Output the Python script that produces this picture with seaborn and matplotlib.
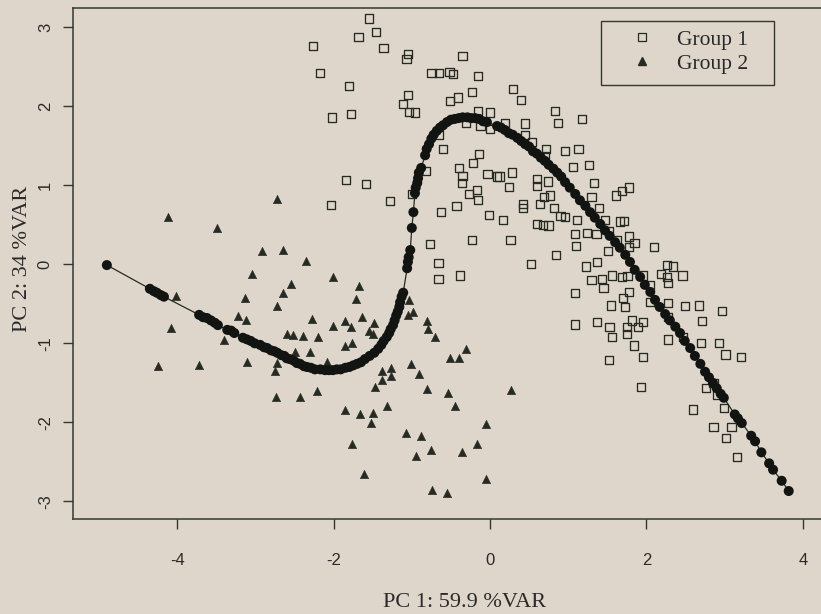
import matplotlib
matplotlib.use("Agg")
import matplotlib.pyplot as plt
from matplotlib.lines import Line2D
from matplotlib.patches import Rectangle
import pandas as pd
import seaborn as sns

# Group 1 scores (open squares)
g1_pc1 = [-1.55, -1.68, -1.46, -2.26, -1.36, -1.05, -1.07, -0.35, -2.17, -0.75,
          -0.65, -0.52, -0.47, -0.15, -1.80, -1.05, -0.23, -0.41, -0.51, -1.11,
          -1.04, -0.96, -2.02, -1.78, -0.15, 0.00, -0.31, -0.12, 0.00, -0.65,
          -0.60, -0.14, -0.22, -0.40, -0.03, 0.09, -0.82, -0.35, -0.36, -1.84,
          -1.59, -0.17, -0.27, -0.15, -1.00, -2.03, -1.28, -0.43, -0.63, -0.01,
          -0.23, -0.77, -0.66, -0.66, -0.38, 0.26, 0.17, 0.42, 0.42, 0.64,
          0.60, 0.68, 0.75, 0.82, 0.52, 0.84, 0.60, 0.60, 0.74, 0.69,
          0.77, 0.24, 0.28, 0.12, 0.19, 0.45, 0.45, 0.54, 0.72, 0.70,
          0.29, 0.40, 0.83, 0.87, 1.18, 0.96, 1.13, 1.06, 1.27, 1.33,
          1.30, 1.39, 1.61, 1.69, 1.78, 0.90, 0.96, 1.11, 1.47, 1.66,
          1.71, 1.78, 1.85, 1.09, 1.10, 1.24, 1.36, 1.51, 1.23, 1.37,
          1.52, 1.62, 1.78, 2.10, 1.30, 1.43, 1.56, 1.69, 1.76, 1.45,
          1.96, 2.19, 2.26, 2.34, 2.26, 2.46, 2.28, 1.78, 1.70, 2.05,
          1.09, 1.55, 1.73, 2.05, 2.28, 2.49, 2.67, 2.97, 1.09, 1.37,
          1.53, 1.75, 1.82, 1.96, 1.89, 1.56, 1.75, 1.84, 2.28, 2.47,
          2.71, 2.70, 2.93, 2.28, 3.01, 3.21, 1.96, 1.52, 1.93, 2.76,
          2.86, 2.90, 2.60, 2.99, 2.86, 3.09, 3.02, 3.16]
g1_pc2 = [3.11, 2.88, 2.94, 2.76, 2.74, 2.66, 2.60, 2.64, 2.42, 2.42,
          2.42, 2.43, 2.41, 2.38, 2.26, 2.14, 2.18, 2.11, 2.07, 2.03,
          1.93, 1.92, 1.86, 1.90, 1.94, 1.92, 1.79, 1.75, 1.71, 1.64,
          1.46, 1.40, 1.28, 1.22, 1.14, 1.11, 1.18, 1.12, 1.03, 1.07,
          1.02, 0.94, 0.89, 0.81, 0.89, 0.75, 0.80, 0.74, 0.66, 0.62,
          0.31, 0.26, 0.02, -0.19, -0.14, 0.31, 0.56, 0.76, 0.71, 0.76,
          0.51, 0.50, 0.49, 0.71, 0.00, 0.12, 1.08, 0.99, 1.05, 0.85,
          0.87, 0.98, 1.16, 1.11, 1.79, 1.78, 1.64, 1.55, 1.46, 1.37,
          2.22, 2.08, 1.94, 1.79, 1.84, 1.43, 1.46, 1.23, 1.26, 1.03,
          0.85, 0.71, 0.87, 0.93, 0.97, 0.61, 0.60, 0.56, 0.56, 0.54,
          0.55, 0.35, 0.27, 0.38, 0.23, 0.40, 0.38, 0.17, -0.03, 0.03,
          0.42, 0.31, 0.22, 0.22, -0.20, -0.19, -0.14, -0.16, -0.15, -0.30,
          -0.14, -0.12, -0.01, -0.03, -0.16, -0.14, -0.24, -0.35, -0.43, -0.26,
          -0.36, -0.52, -0.54, -0.48, -0.49, -0.53, -0.52, -0.59, -0.76, -0.73,
          -0.79, -0.79, -0.71, -0.73, -0.79, -0.92, -0.88, -1.03, -0.95, -0.92,
          -0.72, -1.00, -1.00, -0.67, -1.14, -1.17, -1.17, -1.21, -1.55, -1.57,
          -1.50, -1.65, -1.84, -1.82, -2.06, -2.06, -2.20, -2.44]

# Group 2 scores (filled triangles)
g2_pc1 = [-4.12, -3.49, -2.72, -2.92, -2.65, -2.35, -3.04, -2.54, -2.01, -2.65,
          -3.13, -2.72, -4.02, -3.22, -3.12, -2.28, -2.01, -4.08, -2.60, -2.52,
          -2.39, -2.20, -3.40, -2.49, -2.30, -4.25, -3.72, -3.11, -2.72, -2.75,
          -2.08, -2.74, -2.43, -2.21, -1.68, -1.71, -1.64, -1.85, -1.78, -1.48,
          -1.55, -1.50, -1.85, -1.76, -1.04, -0.98, -1.05, -0.81, -0.79, -0.70,
          -0.31, -0.51, -0.40, -1.38, -1.27, -1.27, -1.38, -1.47, -1.01, -0.91,
          -0.81, -0.54, -0.45, 0.27, -1.85, -1.66, -1.50, -1.52, -1.32, -0.05,
          -1.76, -1.07, -0.88, -0.75, -0.95, -0.36, -0.17, -1.61, -0.05, -0.74,
          -0.55]
g2_pc2 = [0.60, 0.46, 0.83, 0.17, 0.18, 0.04, -0.12, -0.25, -0.16, -0.36,
          -0.43, -0.53, -0.40, -0.65, -0.71, -0.69, -0.78, -0.81, -0.88, -0.89,
          -0.91, -0.92, -0.96, -1.11, -1.11, -1.29, -1.27, -1.24, -1.25, -1.35,
          -1.24, -1.68, -1.68, -1.60, -0.27, -0.44, -0.67, -0.72, -0.79, -0.74,
          -0.84, -0.88, -1.03, -1.00, -0.45, -0.60, -0.64, -0.72, -0.82, -0.92,
          -1.07, -1.19, -1.19, -1.35, -1.31, -1.41, -1.46, -1.55, -1.26, -1.39,
          -1.58, -1.63, -1.79, -1.59, -1.84, -1.89, -1.88, -2.01, -1.79, -2.02,
          -2.27, -2.14, -2.17, -2.35, -2.43, -2.38, -2.27, -2.65, -2.72, -2.86,
          -2.89]

# Principal curve fitted through both groups
curve_pc1 = [-4.90,
             -4.35, -4.30, -4.26, -4.21, -4.17,
             -3.72, -3.67, -3.62, -3.57, -3.52, -3.48,
             -3.36, -3.31, -3.27,
             -3.16, -3.11, -3.06, -3.01, -2.94, -2.89, -2.85, -2.80, -2.76, -2.72,
             -2.67, -2.63, -2.60, -2.56, -2.51, -2.47, -2.43, -2.38, -2.34, -2.29,
             -2.24, -2.17, -2.11, -2.06, -2.01, -1.96, -1.91, -1.85, -1.80, -1.75,
             -1.70, -1.65, -1.60, -1.54, -1.48, -1.43, -1.39, -1.36, -1.32, -1.29,
             -1.27, -1.24, -1.22, -1.20, -1.18, -1.16, -1.15, -1.13, -1.11,
             -1.06, -1.05, -1.04, -1.02,
             -1.00, -0.98,
             -0.96, -0.95, -0.93, -0.92, -0.91, -0.88,
             -0.83, -0.81, -0.78, -0.75, -0.72, -0.68, -0.64, -0.60, -0.55, -0.50,
             -0.45, -0.40, -0.35, -0.29, -0.24, -0.19, -0.14, -0.09, -0.04,
             0.09, 0.14, 0.19, 0.24, 0.29, 0.35, 0.40, 0.45, 0.50, 0.55,
             0.60, 0.65, 0.70, 0.75, 0.81, 0.86, 0.91, 0.96, 1.02, 1.09,
             1.15, 1.22, 1.28, 1.34, 1.41, 1.47, 1.53, 1.60, 1.66, 1.73,
             1.79, 1.85, 1.92, 1.98, 2.05, 2.11, 2.17, 2.24, 2.30, 2.37,
             2.43, 2.49, 2.56, 2.62, 2.69, 2.75, 2.80, 2.85, 2.90, 2.95, 2.99,
             3.13, 3.17, 3.22,
             3.34, 3.39,
             3.47, 3.57, 3.62, 3.73, 3.82]
curve_pc2 = [-0.01,
             -0.31, -0.34, -0.36, -0.39, -0.41,
             -0.64, -0.67, -0.68, -0.71, -0.74, -0.77,
             -0.83, -0.84, -0.87,
             -0.93, -0.95, -0.97, -1.00, -1.02, -1.05, -1.06, -1.09, -1.10, -1.12,
             -1.15, -1.16, -1.19, -1.20, -1.22, -1.25, -1.26, -1.29, -1.30, -1.31,
             -1.33, -1.33, -1.34, -1.34, -1.34, -1.33, -1.33, -1.31, -1.30, -1.28,
             -1.26, -1.24, -1.20, -1.16, -1.12, -1.07, -1.02, -0.97, -0.92, -0.87,
             -0.82, -0.77, -0.71, -0.65, -0.60, -0.54, -0.48, -0.41, -0.36,
             -0.05, 0.03, 0.09, 0.18,
             0.46, 0.66,
             0.90, 0.97, 1.03, 1.09, 1.16, 1.22,
             1.38, 1.46, 1.52, 1.59, 1.64, 1.69, 1.73, 1.76, 1.80, 1.83,
             1.84, 1.85, 1.86, 1.86, 1.85, 1.85, 1.84, 1.81, 1.80,
             1.75, 1.73, 1.70, 1.66, 1.64, 1.60, 1.56, 1.52, 1.49, 1.43,
             1.40, 1.35, 1.31, 1.26, 1.21, 1.16, 1.11, 1.04, 0.97, 0.89,
             0.81, 0.74, 0.66, 0.59, 0.51, 0.43, 0.36, 0.28, 0.21, 0.12,
             0.03, -0.07, -0.16, -0.26, -0.35, -0.45, -0.54, -0.63, -0.71, -0.79,
             -0.87, -0.97, -1.06, -1.16, -1.26, -1.36, -1.43, -1.50, -1.57, -1.64, -1.69,
             -1.90, -1.95, -2.01,
             -2.17, -2.24,
             -2.38, -2.52, -2.60, -2.74, -2.87]

x_ticks = [-4, -2, 0, 2, 4]
y_ticks = [-3, -2, -1, 0, 1, 2, 3]
x_title = "PC 1: 59.9 %VAR"
y_title = "PC 2: 34 %VAR"
group_labels = ["Group 1", "Group 2"]

sns.set_theme(style="ticks")
plt.rcParams["font.family"] = ["Liberation Sans", "DejaVu Sans"]

paper = "#ded6ca"
ink = "#252a23"
frame = "#34372f"
serif = "Liberation Serif"

W, H = 821, 614
fig = plt.figure(figsize=(W / 100, H / 100), dpi=100, facecolor=paper)
ax = fig.add_axes([73 / W, 1 - 519 / H, 748 / W, 511 / H])
ax.set_facecolor(paper)

g1 = pd.DataFrame({"pc1": g1_pc1, "pc2": g1_pc2})
g2 = pd.DataFrame({"pc1": g2_pc1, "pc2": g2_pc2})
curve = pd.DataFrame({"pc1": curve_pc1, "pc2": curve_pc2})

sns.scatterplot(data=g1, x="pc1", y="pc2", ax=ax, marker="s", s=36,
                color=ink, facecolor="none", edgecolor=ink, linewidth=0.95,
                zorder=2)
sns.scatterplot(data=g2, x="pc1", y="pc2", ax=ax, marker="^", s=36,
                color=ink, edgecolor=ink, linewidth=0.4, zorder=3)
sns.lineplot(data=curve, x="pc1", y="pc2", ax=ax, sort=False, estimator=None,
             color=ink, linewidth=0.9, zorder=4)
sns.scatterplot(data=curve, x="pc1", y="pc2", ax=ax, marker="o", s=52,
                color="#111410", edgecolor="none", zorder=5)

ax.set_xlim(-5.333, 4.233)
ax.set_ylim(-3.224, 3.244)
ax.set_xticks(x_ticks)
ax.set_yticks(y_ticks)
ax.set_xticklabels([str(t) for t in x_ticks])
ax.set_yticklabels([str(t) for t in y_ticks])

for side in ("top", "left", "bottom"):
    ax.spines[side].set_color(frame)
    ax.spines[side].set_linewidth(1.1)
ax.spines["right"].set_visible(False)

ax.tick_params(axis="both", direction="out", length=7.5, width=1.0,
               color=frame, labelcolor="#2a2a2a", labelsize=12)
ax.tick_params(axis="x", pad=17)
ax.tick_params(axis="y", pad=7, labelrotation=90)
for lab in ax.get_yticklabels():
    lab.set_verticalalignment("center")

ax.set_xlabel(x_title, fontfamily=serif, fontsize=16, color="#2a2a2a")
ax.set_ylabel(y_title, fontfamily=serif, fontsize=16, color="#2a2a2a")
ax.xaxis.set_label_coords(0.524, -0.145)
ax.yaxis.set_label_coords(-0.055, 0.509)

# Legend: entries without frame, then a plain rectangular box around them
handles = [
    Line2D([], [], marker="s", linestyle="none", markerfacecolor="none",
           markeredgecolor=ink, markeredgewidth=0.9, markersize=5.5),
    Line2D([], [], marker="^", linestyle="none", color=ink, markersize=5.5),
]
leg = ax.legend(handles, group_labels, loc="upper left",
                bbox_to_anchor=(0.732, 0.958), borderaxespad=0, borderpad=0,
                frameon=False, handlelength=2.0, handletextpad=0.63,
                labelspacing=0.2, prop={"family": serif, "size": 15.5})
for t in leg.get_texts():
    t.set_color("#2a2a2a")
ax.add_patch(Rectangle((0.706, 0.849), 0.231, 0.126, transform=ax.transAxes,
                       fill=False, edgecolor=frame, linewidth=1.0, zorder=6))

fig.savefig("out.png", dpi=100, facecolor=paper)
